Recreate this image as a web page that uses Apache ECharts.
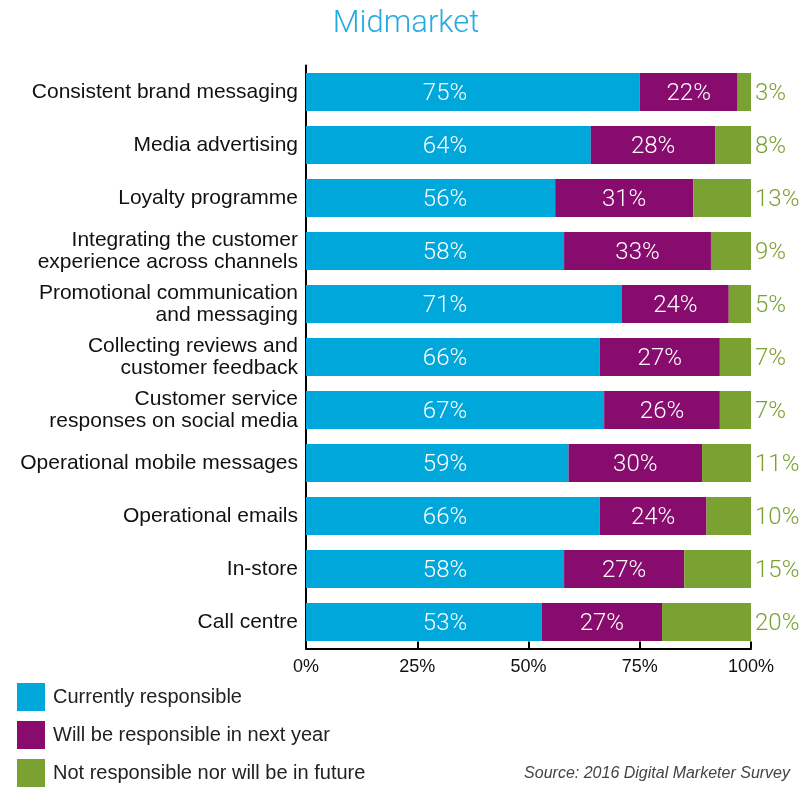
<!DOCTYPE html>
<html>
<head>
<meta charset="utf-8">
<script src="https://cdn.jsdelivr.net/npm/echarts@6/dist/echarts.min.js"></script>
<style>
  html, body { margin: 0; padding: 0; background: #fff; }
  #chart { width: 812px; height: 787px; }
</style>
</head>
<body>
<div id="chart"></div>
<script>
// Channels, top to bottom
const categories = [
  'Consistent brand messaging',
  'Media advertising',
  'Loyalty programme',
  'Integrating the customer\nexperience across channels',
  'Promotional communication\nand messaging',
  'Collecting reviews and\ncustomer feedback',
  'Customer service\nresponses on social media',
  'Operational mobile messages',
  'Operational emails',
  'In-store',
  'Call centre'
];
const currentlyResponsible = [75, 64, 56, 58, 71, 66, 67, 59, 66, 58, 53];
const nextYear = [22, 28, 31, 33, 24, 27, 26, 30, 24, 27, 27];
const notResponsible = [3, 8, 13, 9, 5, 7, 7, 11, 10, 15, 20];
const seriesNames = [
  'Currently responsible',
  'Will be responsible in next year',
  'Not responsible nor will be in future'
];
const axisTicks = [0, 25, 50, 75, 100];

const BLUE = '#00a7da', PURPLE = '#870c6e', GREEN = '#79a232';
const VALUE_FONT = "Roboto, 'Liberation Sans', sans-serif";
const SANS = "'Liberation Sans', Arial, Helvetica, sans-serif";

const chart = echarts.init(document.getElementById('chart'), null, { renderer: 'canvas' });

const valueLabel = {
  show: true,
  color: '#fff',
  fontFamily: VALUE_FONT,
  fontWeight: 300,
  fontSize: 24,
  offset: [0, 2],
  formatter: p => p.value + '%'
};

chart.setOption({
  animation: false,
  title: {
    text: 'Midmarket',
    left: 'center',
    top: 4,
    textStyle: { color: '#27aae1', fontFamily: VALUE_FONT, fontWeight: 300, fontSize: 31 }
  },
  legend: {
    orient: 'vertical',
    left: 17,
    top: 683,
    padding: 0,
    itemWidth: 28,
    itemHeight: 28,
    itemGap: 10,
    icon: 'rect',
    data: seriesNames,
    textStyle: { color: '#222', fontFamily: SANS, fontSize: 20, padding: [0, 0, 0, 3] }
  },
  graphic: [{
    type: 'text',
    right: 22,
    top: 766,
    style: {
      text: 'Source: 2016 Digital Marketer Survey',
      fill: '#444',
      font: 'italic 16px ' + SANS
    }
  }],
  grid: { left: 306, right: 61, top: 65.5, bottom: 787 - 648.5, containLabel: false },
  xAxis: {
    type: 'value',
    min: axisTicks[0],
    max: axisTicks[axisTicks.length - 1],
    interval: 25,
    splitLine: { show: false },
    axisLine: { show: true, lineStyle: { color: '#000', width: 2 } },
    axisTick: { show: true, inside: true, length: 7, lineStyle: { color: '#000', width: 2 } },
    axisLabel: { color: '#111', fontFamily: SANS, fontSize: 18, margin: 10, formatter: v => v + '%' }
  },
  yAxis: {
    type: 'category',
    data: categories,
    inverse: true,
    axisLine: { show: true, lineStyle: { color: '#000', width: 2 } },
    axisTick: { show: false },
    axisLabel: { color: '#111', fontFamily: SANS, fontSize: 21, lineHeight: 22, margin: 8, align: 'right', padding: [3, 0, 0, 0] }
  },
  series: [
    {
      name: seriesNames[0],
      type: 'bar',
      stack: 'total',
      barWidth: 38,
      data: currentlyResponsible,
      itemStyle: { color: BLUE },
      label: Object.assign({}, valueLabel, { position: [139, '50%'], align: 'center', verticalAlign: 'middle' })
    },
    {
      name: seriesNames[1],
      type: 'bar',
      stack: 'total',
      barWidth: 38,
      data: nextYear,
      itemStyle: { color: PURPLE },
      label: Object.assign({}, valueLabel, { position: 'inside' })
    },
    {
      name: seriesNames[2],
      type: 'bar',
      stack: 'total',
      barWidth: 38,
      data: notResponsible,
      itemStyle: { color: GREEN },
      label: Object.assign({}, valueLabel, { position: 'right', distance: 4, color: GREEN })
    }
  ]
});
</script>
</body>
</html>
